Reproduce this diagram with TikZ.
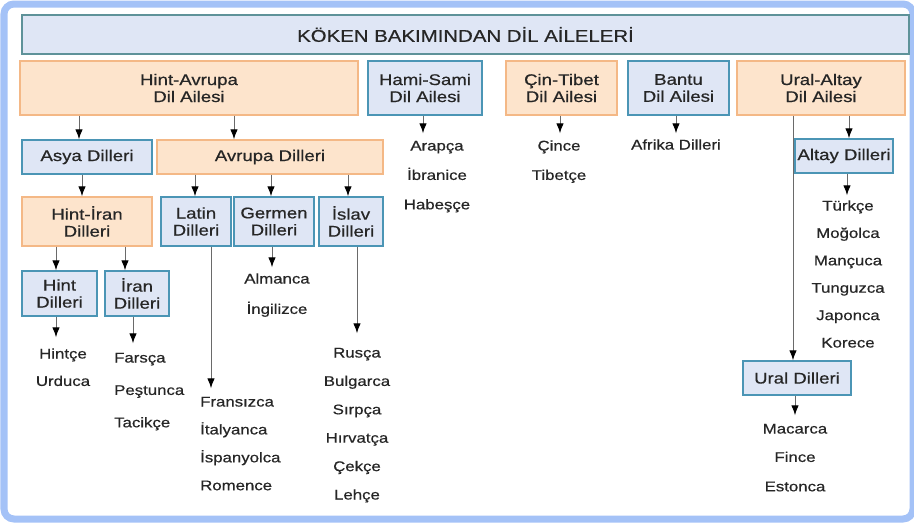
\documentclass[tikz,border=0pt]{standalone}
\usepackage{fontspec}
\setmainfont{Liberation Sans}[FakeStretch=1.2,FakeBold=0.6]
\usetikzlibrary{arrows.meta,positioning}

\definecolor{framebl}{HTML}{A4C2F7}
\definecolor{boxbl}{HTML}{DFE6F5}
\definecolor{edgebl}{HTML}{4B95B5}
\definecolor{edgetitle}{HTML}{5E9299}
\definecolor{boxor}{HTML}{FDE4CC}
\definecolor{edgeor}{HTML}{F4B886}
\definecolor{ink}{HTML}{262626}
\definecolor{wire}{HTML}{6A6A6A}

\tikzset{
  orbox/.style={draw=edgeor, fill=boxor, line width=1.4pt, inner sep=0pt, align=center,
    font=\fontsize{15.5}{17}\selectfont, text=ink},
  blbox/.style={orbox, draw=edgebl, fill=boxbl},
  leaf/.style={inner sep=0pt, text height=10pt, text depth=3pt,
    font=\fontsize{14}{15}\selectfont, text=ink},
  arr/.style={draw=wire, line width=1pt, -{Latex[length=10pt,width=7.5pt,color=black]}},
}

\begin{document}
\begin{tikzpicture}[x=1pt,y=-1pt]
  \useasboundingbox (0,0) rectangle (914,523);
  \draw[framebl, line width=7pt, rounded corners=10pt] (4,4) rectangle (913,519);

  % title and families
  \node[blbox, draw=edgetitle, minimum width=887pt, minimum height=39pt,
    font=\fontsize{17}{20}\selectfont] (title) at (465.5,34.5) {KÖKEN BAKIMINDAN DİL AİLELERİ};
  \node[orbox, minimum width=338pt, minimum height=54pt] (hintavrupa) at (189,88) {Hint-Avrupa\\Dil Ailesi};
  \node[blbox, minimum width=114pt, minimum height=54pt] (hamisami) at (425,88) {Hami-Sami\\Dil Ailesi};
  \node[orbox, minimum width=111pt, minimum height=54pt] (cintibet) at (561.5,88) {Çin-Tibet\\Dil Ailesi};
  \node[blbox, minimum width=101pt, minimum height=54pt] (bantu) at (678.5,88) {Bantu\\Dil Ailesi};
  \node[orbox, minimum width=168pt, minimum height=54pt] (uralaltay) at (821,88) {Ural-Altay\\Dil Ailesi};

  % groups
  \node[blbox, minimum width=130pt, minimum height=34pt] (asya) at (87,157) {Asya Dilleri};
  \node[orbox, minimum width=226pt, minimum height=34pt] (avrupa) at (270,157) {Avrupa Dilleri};
  \node[orbox, minimum width=130pt, minimum height=49pt] (hintiran) at (87,221.5) {Hint-İran\\Dilleri};
  \node[blbox, minimum width=70pt, minimum height=49pt] (latin) at (196,221.5) {Latin\\Dilleri};
  \node[blbox, minimum width=80pt, minimum height=49pt] (germen) at (274,221.5) {Germen\\Dilleri};
  \node[blbox, minimum width=64pt, minimum height=49pt] (islav) at (351,221.5) {İslav\\Dilleri};
  \node[blbox, minimum width=75pt, minimum height=45pt] (hint) at (59.5,293.5) {Hint\\Dilleri};
  \node[blbox, minimum width=64pt, minimum height=45pt] (iran) at (137,293.5) {İran\\Dilleri};
  \node[blbox, minimum width=98pt, minimum height=34pt] (altay) at (844,156) {Altay Dilleri};
  \node[blbox, minimum width=108pt, minimum height=34pt] (ural) at (797,378) {Ural Dilleri};

  % languages
  \node[leaf] (arapca) at (437,147) {Arapça};
  \node[leaf, below=16pt of arapca] (ibranice) {İbranice};
  \node[leaf, below=16pt of ibranice] (habesce) {Habeşçe};
  \node[leaf] (cince) at (559,147) {Çince};
  \node[leaf, below=16pt of cince] (tibetce) {Tibetçe};
  \node[leaf] (afrika) at (676,146) {Afrika Dilleri};
  \node[leaf] (turkce) at (848,207) {Türkçe};
  \node[leaf, below=14pt of turkce] (mogolca) {Moğolca};
  \node[leaf, below=14pt of mogolca] (mancuca) {Mançuca};
  \node[leaf, below=14pt of mancuca] (tunguzca) {Tunguzca};
  \node[leaf, below=14pt of tunguzca] (japonca) {Japonca};
  \node[leaf, below=14pt of japonca] (korece) {Korece};
  \node[leaf] (macarca) at (795,430) {Macarca};
  \node[leaf, below=15pt of macarca] (fince) {Fince};
  \node[leaf, below=16pt of fince] (estonca) {Estonca};
  \node[leaf] (almanca) at (277,280) {Almanca};
  \node[leaf, below=17pt of almanca] (ingilizce) {İngilizce};
  \node[leaf] (hintce) at (63,355) {Hintçe};
  \node[leaf, below=14pt of hintce] (urduca) {Urduca};
  \node[leaf, anchor=west] (farsca) at (114,359) {Farsça};
  \node[leaf, below=19pt of farsca.south west, anchor=north west] (pestunca) {Peştunca};
  \node[leaf, below=19pt of pestunca.south west, anchor=north west] (tacikce) {Tacikçe};
  \node[leaf, anchor=west] (fransizca) at (200,403) {Fransızca};
  \node[leaf, below=14.5pt of fransizca.south west, anchor=north west] (italyanca) {İtalyanca};
  \node[leaf, below=14.5pt of italyanca.south west, anchor=north west] (ispanyolca) {İspanyolca};
  \node[leaf, below=14.5pt of ispanyolca.south west, anchor=north west] (romence) {Romence};
  \node[leaf] (rusca) at (357,354) {Rusça};
  \node[leaf, below=15pt of rusca] (bulgarca) {Bulgarca};
  \node[leaf, below=15pt of bulgarca] (sirpca) {Sırpça};
  \node[leaf, below=15pt of sirpca] (hirvatca) {Hırvatça};
  \node[leaf, below=15pt of hirvatca] (cekce) {Çekçe};
  \node[leaf, below=15pt of cekce] (lehce) {Lehçe};

  % arrows
  \draw[arr] (hintavrupa.south -| 79,0) -- (asya.north -| 79,0);
  \draw[arr] (hintavrupa.south -| 234,0) -- (avrupa.north -| 234,0);
  \draw[arr, shorten >=7pt] (hamisami.south -| 423,0) -- (arapca.north -| 423,0);
  \draw[arr, shorten >=7pt] (cintibet.south -| 560,0) -- (cince.north -| 560,0);
  \draw[arr, shorten >=6pt] (bantu.south -| 676,0) -- (afrika.north -| 676,0);
  \draw[arr] (uralaltay.south -| 793,0) -- (ural.north -| 793,0);
  \draw[arr] (uralaltay.south -| 849,0) -- (altay.north -| 849,0);
  \draw[arr, shorten >=5pt] (altay.south -| 847,0) -- (turkce.north -| 847,0);
  \draw[arr, shorten >=8pt] (ural.south -| 795,0) -- (macarca.north -| 795,0);
  \draw[arr] (asya.south -| 82,0) -- (hintiran.north -| 82,0);
  \draw[arr] (avrupa.south -| 195,0) -- (latin.north -| 195,0);
  \draw[arr] (avrupa.south -| 271,0) -- (germen.north -| 271,0);
  \draw[arr] (avrupa.south -| 348,0) -- (islav.north -| 348,0);
  \draw[arr] (hintiran.south -| 56,0) -- (hint.north -| 56,0);
  \draw[arr] (hintiran.south -| 125,0) -- (iran.north -| 125,0);
  \draw[arr, shorten >=11pt] (hint.south -| 56,0) -- (hintce.north -| 56,0);
  \draw[arr, shorten >=9pt] (iran.south -| 133,0) -- (farsca.north -| 133,0);
  \draw[arr, shorten >=6pt] (germen.south -| 272,0) -- (almanca.north -| 272,0);
  \draw[arr, shorten >=8pt] (latin.south -| 211,0) -- (fransizca.north -| 211,0);
  \draw[arr, shorten >=14pt] (islav.south -| 357,0) -- (rusca.north -| 357,0);
\end{tikzpicture}
\end{document}
